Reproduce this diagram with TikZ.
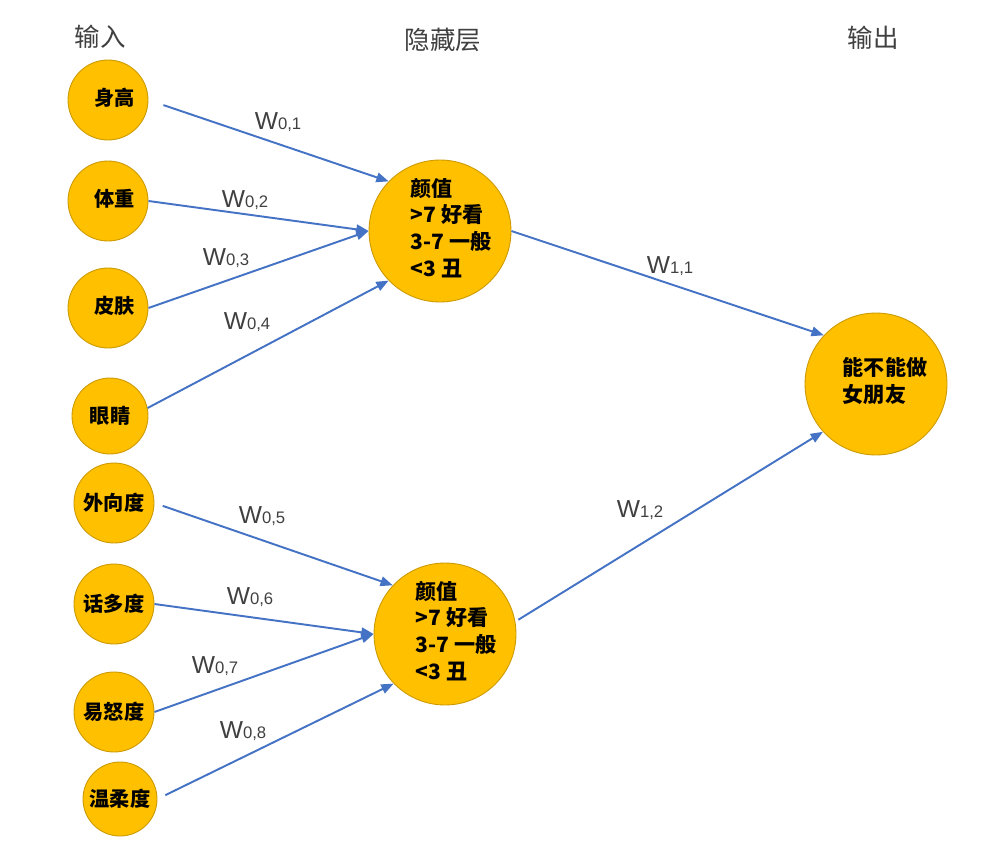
\documentclass[tikz,border=0pt]{standalone}
\usepackage{fontspec}
\setmainfont{Noto Sans CJK SC}
\newfontfamily\wfont{Liberation Sans}
\usetikzlibrary{arrows.meta, positioning}
\definecolor{gold}{RGB}{255,192,0}
\definecolor{golddark}{RGB}{204,153,0}
\definecolor{linkblue}{RGB}{68,114,196}
\definecolor{labelgray}{RGB}{64,64,64}
\newcommand{\wlab}[1]{W{\fontsize{9.5}{10}\selectfont #1}}
\newcommand{\pushtext}[2]{\hspace*{#1}\begin{tabular}{@{}l@{}}#2\end{tabular}\hspace*{-#1}}

\begin{document}
\begin{tikzpicture}[x=0.02cm, y=-0.02cm,
    innode/.style={circle, fill=gold, draw=golddark, line width=0.5pt, minimum size=1.6cm, inner sep=0pt, font=\fontsize{11.5}{13}\selectfont\bfseries},
    bignode/.style={circle, fill=gold, draw=golddark, line width=0.5pt, minimum size=2.84cm, inner sep=0pt, font=\fontsize{12}{15.2}\selectfont\bfseries},
    header/.style={font=\fontsize{14.5}{16}\selectfont, text=labelgray},
    wlabel/.style={font=\wfont\fontsize{14}{16}\selectfont, text=labelgray, inner sep=0pt},
    link/.style={draw=linkblue, line width=1.1pt, -{Triangle[length=7pt, width=5.5pt]}}]
    \useasboundingbox (0,0) rectangle (996,851);

    % Tiêu đề ba cột
    \node[header] (tin) at (100,37) {输入};
    \node[header] (thid) at (443,40) {隐藏层};
    \node[header] (tout) at (873,38) {输出};

    % Các nút đầu vào
    \node[innode] (in1) at (108,100) {\pushtext{0.14cm}{身高}};
    \node[innode] (in2) at (108,201) {\pushtext{0.14cm}{体重}};
    \node[innode] (in3) at (108,308) {\pushtext{0.14cm}{皮肤}};
    \node[innode, minimum size=1.52cm] (in4) at (110,416) {眼睛};
    \node[innode] (in5) at (114,503) {外向度};
    \node[innode] (in6) at (114,604) {话多度};
    \node[innode] (in7) at (114,712) {易怒度};
    \node[innode, minimum size=1.48cm] (in8) at (120,799) {温柔度};

    % Hai nút ẩn
    \node[bignode] (hid1) at (440,231) {\pushtext{0.22cm}{颜值\\>7 好看\\3-7 一般\\<3 丑}};
    \node[bignode] (hid2) at (445,634) {\pushtext{0.22cm}{颜值\\>7 好看\\3-7 一般\\<3 丑}};

    % Nút đầu ra
    \node[bignode] (out) at (876,384) {\pushtext{0.18cm}{能不能做\\女朋友}};

    % Mũi tên vào nút ẩn thứ nhất
    \draw[link, shorten <=9pt] (in1.east) -- (hid1.136);
    \draw[link] (in2.east) -- (hid1.west);
    \draw[link] (in3.east) -- (hid1.west);
    \draw[link] (in4.12) -- (hid1.224);

    % Mũi tên vào nút ẩn thứ hai
    \draw[link, shorten <=5pt] (in5.east) -- (hid2.137);
    \draw[link] (in6.east) -- (hid2.west);
    \draw[link] (in7.east) -- (hid2.west);
    \draw[link, shorten <=5pt] (in8.east) -- (hid2.224);

    % Mũi tên tới nút đầu ra
    \draw[link] (hid1.east) -- (out.137);
    \draw[link, shorten <=2pt] (hid2.10) -- (out.222);

    % Nhãn trọng số
    \node[wlabel] (w01) at (278,122) {\wlab{0,1}};
    \node[wlabel] (w02) at (245,200) {\wlab{0,2}};
    \node[wlabel] (w03) at (226,258) {\wlab{0,3}};
    \node[wlabel] (w04) at (247,322) {\wlab{0,4}};
    \node[wlabel] (w05) at (262,516) {\wlab{0,5}};
    \node[wlabel] (w06) at (250,597) {\wlab{0,6}};
    \node[wlabel] (w07) at (215,666) {\wlab{0,7}};
    \node[wlabel] (w08) at (243,731) {\wlab{0,8}};
    \node[wlabel] (w11) at (670,266) {\wlab{1,1}};
    \node[wlabel] (w12) at (640,510) {\wlab{1,2}};
\end{tikzpicture}
\end{document}
